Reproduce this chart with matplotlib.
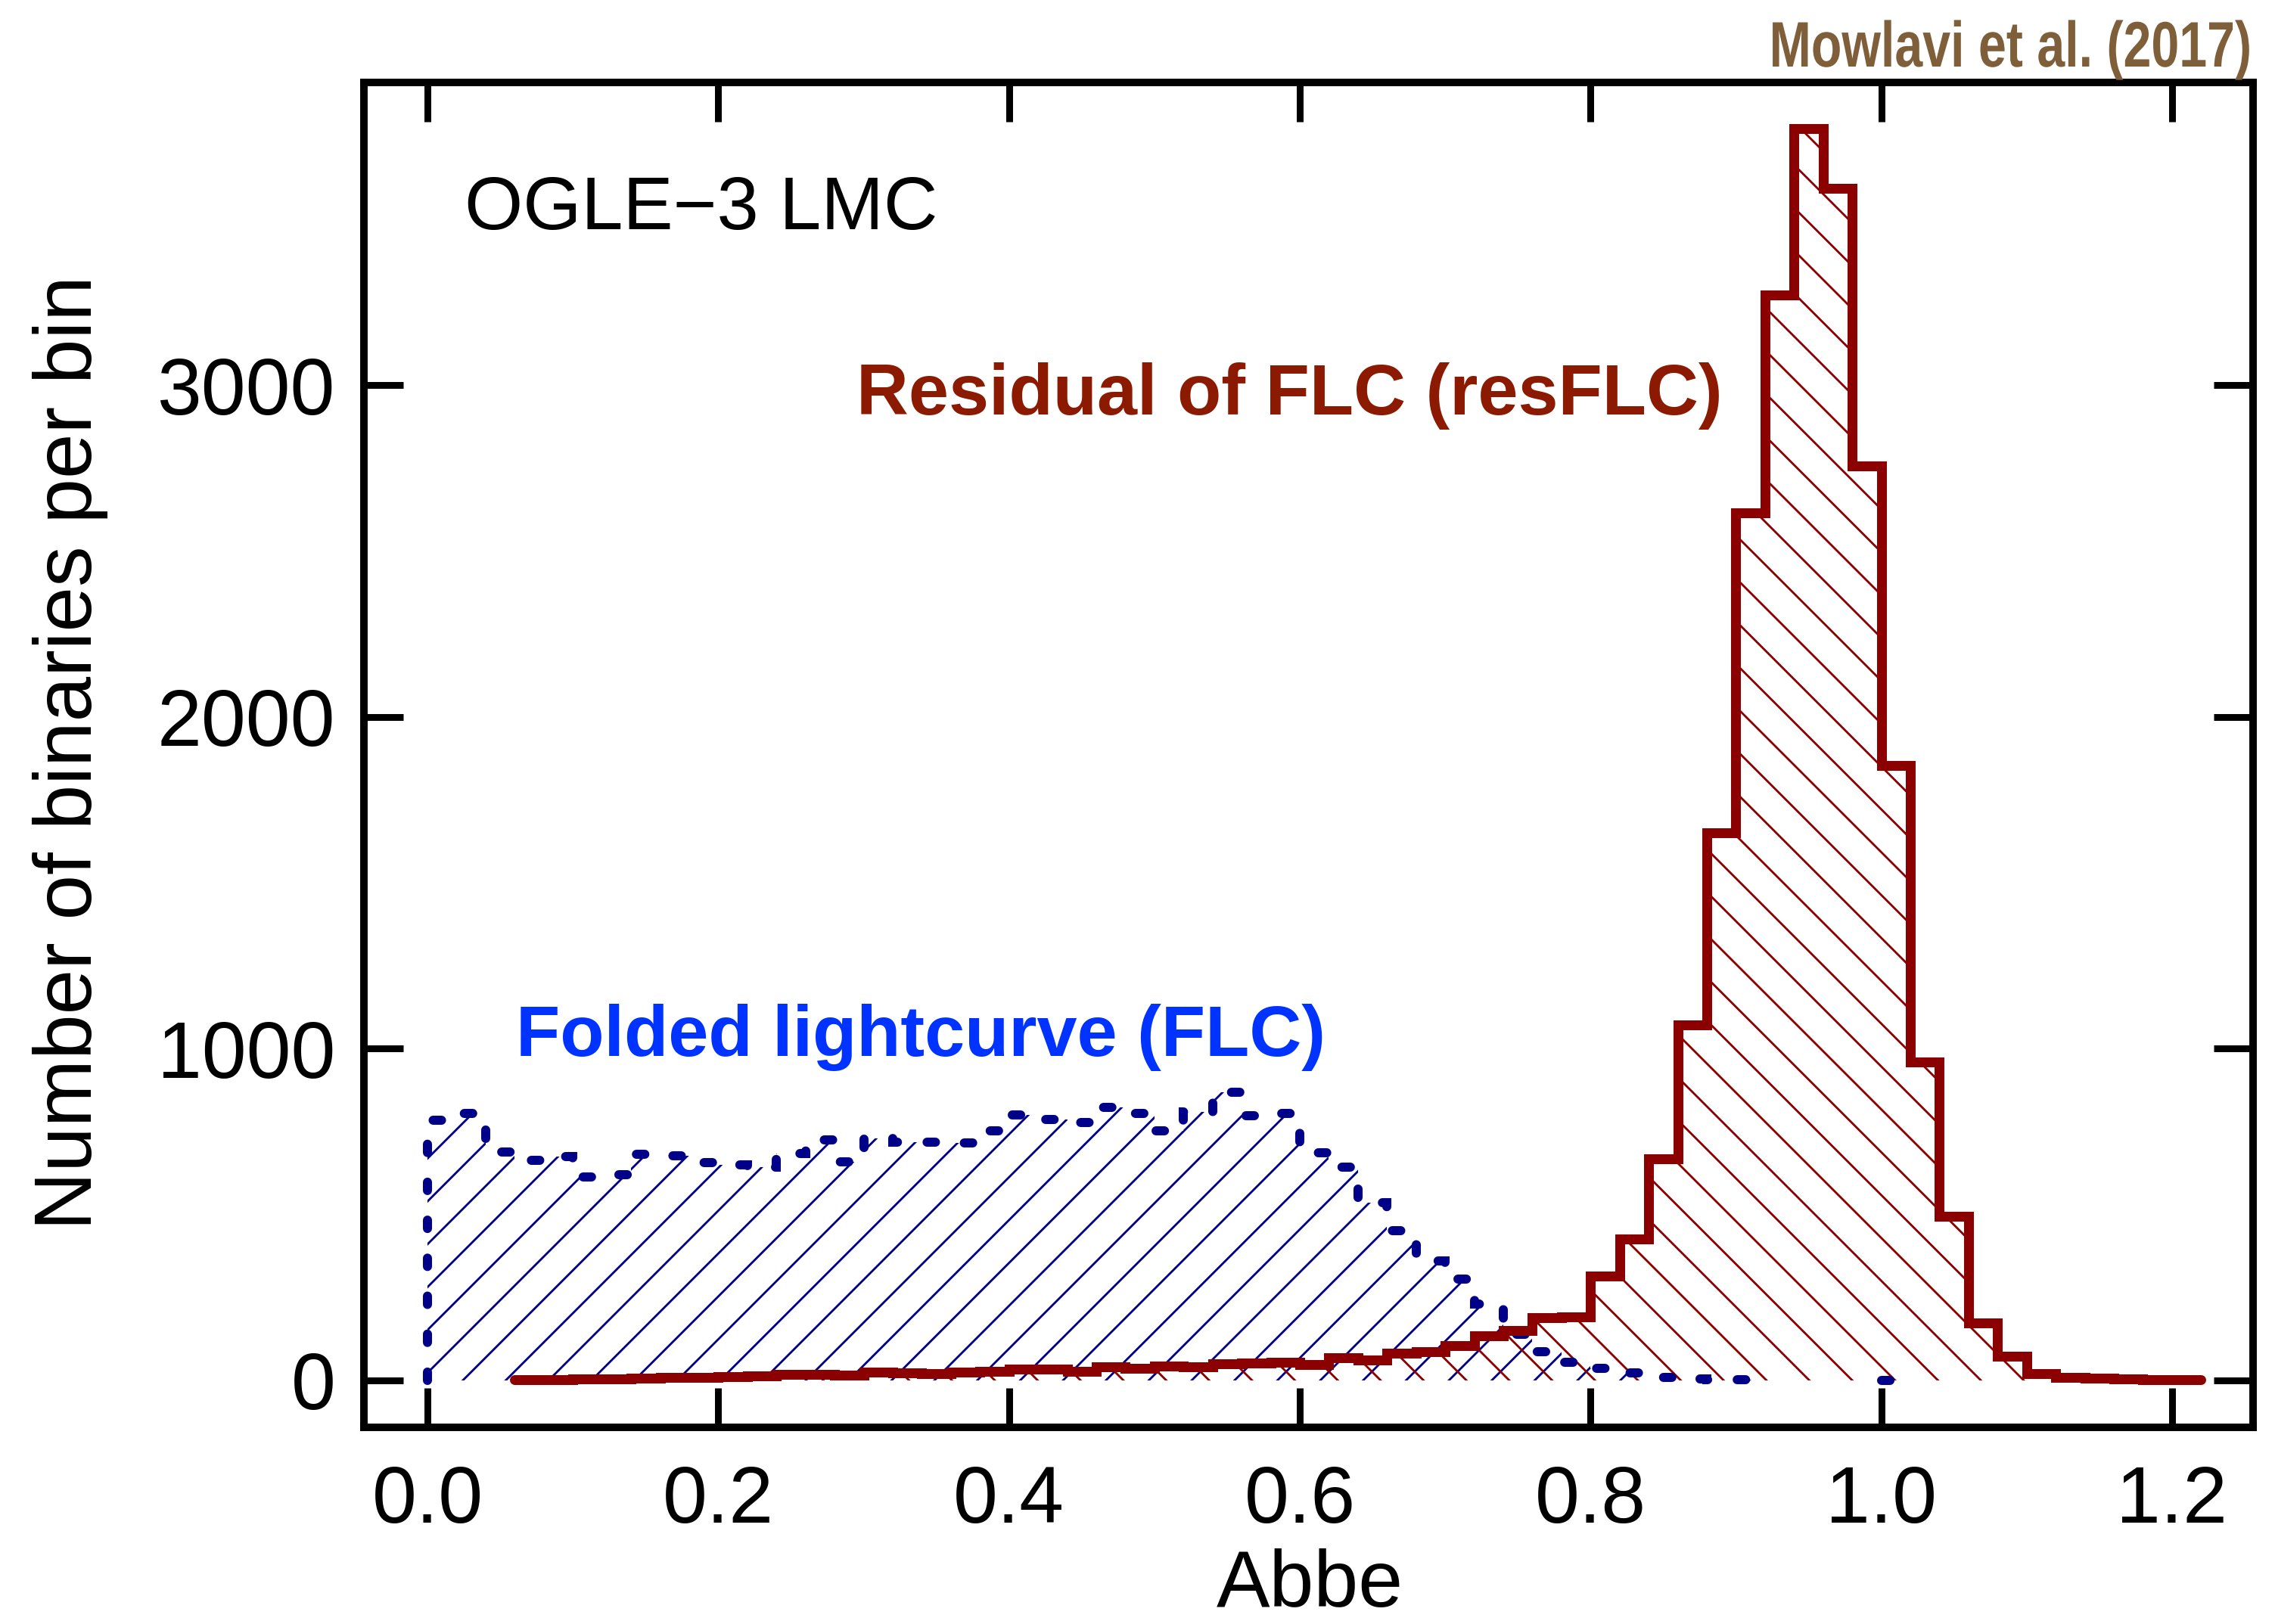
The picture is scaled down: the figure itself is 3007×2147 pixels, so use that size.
import numpy as np
import matplotlib
matplotlib.use('Agg')
import matplotlib.pyplot as plt
import matplotlib.patheffects as pe
from matplotlib.transforms import Affine2D

plt.rcParams['font.family'] = ['Liberation Sans', 'DejaVu Sans']
plt.rcParams['hatch.linewidth'] = 0.6

# histogram bins are 0.02 wide in Abbe
bin_width = 0.02

# folded lightcurve (FLC), bins from 0.00 to 0.92
flc_start = 0.0
flc_counts = [785, 805, 689, 664, 676, 613, 620, 681, 677, 657,
              649, 642, 685, 725, 658, 729, 718, 718, 717, 752,
              800, 786, 778, 824, 805, 752, 809, 869, 797, 805,
              687, 642, 535, 452, 361, 305, 231, 140, 87, 55,
              36, 22, 8, 5, 3, 2]
# the few FLC stars left near Abbe = 1
flc_tail_start = 1.0
flc_tail_counts = [1]

# residual of FLC (resFLC), bins from 0.06 to 1.22
res_start = 0.06
res_counts = [2, 3, 4, 5, 7, 8, 10, 12, 14, 17,
              19, 15, 24, 23, 20, 26, 27, 34, 33, 28,
              42, 36, 43, 42, 49, 52, 55, 48, 68, 62,
              83, 87, 104, 135, 150, 190, 192, 314, 426, 668,
              1072, 1651, 2615, 3272, 3774, 3594, 2757, 1854, 959, 495,
              173, 74, 20, 10, 7, 4, 3, 3]

xticks = [0.0, 0.2, 0.4, 0.6, 0.8, 1.0, 1.2]
yticks = [0, 1000, 2000, 3000]

blue = '#000088'
red = '#8B0000'


def get_edges(start, counts):
    return start + bin_width*np.arange(len(counts) + 1)


class Squeeze(pe.AbstractPathEffect):
    """narrow the glyphs horizontally around a fixed pixel column"""
    def __init__(self, sx, x_anchor):
        super().__init__()
        self.sx = sx
        self.x_anchor = x_anchor

    def draw_path(self, renderer, gc, tpath, affine, rgbFace=None):
        a = self.x_anchor
        affine = affine + Affine2D().translate(-a, 0).scale(self.sx, 1).translate(a, 0)
        renderer.draw_path(gc, tpath, affine, rgbFace)


DPI = 340
W, H = 3007, 2147
fig = plt.figure(figsize=(W/DPI, H/DPI), dpi=DPI)
ax = fig.add_axes([0.1600, 0.1212, 0.8304, 0.8280])

flc_edges = get_edges(flc_start, flc_counts)
res_edges = get_edges(res_start, res_counts)
tail_edges = get_edges(flc_tail_start, flc_tail_counts)

# hatching first, outlines on top
ax.stairs(flc_counts, flc_edges, fill=True, facecolor='none', edgecolor=blue,
          hatch='//', linewidth=0, zorder=1)
ax.stairs(res_counts, res_edges, fill=True, facecolor='none', edgecolor=red,
          hatch='\\\\', linewidth=0, zorder=1.2)

dash = (0, (0.92, 3.25))
ax.stairs(flc_counts, flc_edges, edgecolor=blue, linewidth=2.55,
          linestyle=dash, capstyle='round', zorder=2)
ax.stairs(flc_tail_counts, tail_edges, edgecolor=blue, linewidth=2.55,
          linestyle=dash, capstyle='round', baseline=None, zorder=2)
ax.stairs(res_counts, res_edges, edgecolor=red, linewidth=2.75,
          capstyle='round', joinstyle='miter', baseline=None, zorder=3)

ax.set_xlim(-0.0437, 1.2558)
ax.set_ylim(-141, 3913)
ax.set_xticks(xticks)
ax.set_xticklabels(['%.1f' % t for t in xticks])
ax.set_yticks(yticks)
ax.minorticks_off()
ax.tick_params(direction='in', length=11, width=1.9, top=True, right=True,
               labelsize=22.4)
ax.tick_params(axis='x', pad=10.5)
ax.tick_params(axis='y', pad=8)
for s in ax.spines.values():
    s.set_linewidth(2.1)

ax.set_xlabel('Abbe', fontsize=22.4, va='baseline')
ax.xaxis.set_label_coords(1731/W, 1 - 2124/H, transform=fig.transFigure)
ax.set_ylabel('Number of binaries per bin', fontsize=22.7, va='baseline',
              rotation_mode='anchor')
ax.yaxis.set_label_coords(121/W, 1 - 995/H, transform=fig.transFigure)

ax.text(0.0255, 3470, 'OGLE\u22123 LMC', fontsize=21.0, va='baseline')
ax.text(0.295, 2912, 'Residual of FLC (resFLC)', color='#8B1A00',
        fontsize=20.2, fontweight='bold', va='baseline')
ax.text(0.061, 978, 'Folded lightcurve (FLC)', color='#0033FF',
        fontsize=20.2, fontweight='bold', va='baseline')

fig.text(2976/W, 1 - 88/H, 'Mowlavi et al. (2017)', ha='right',
         va='baseline', fontsize=18, fontweight='bold', color='#7F5E3A',
         path_effects=[Squeeze(0.78, 2976)])

fig.savefig('out.png', dpi=DPI)
